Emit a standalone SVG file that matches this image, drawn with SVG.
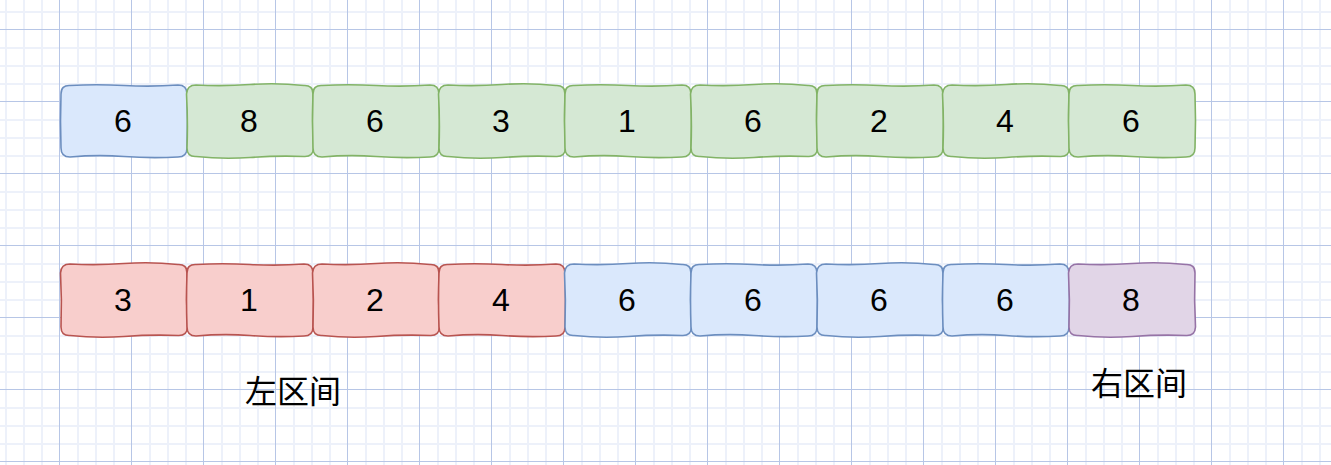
<svg xmlns="http://www.w3.org/2000/svg" width="1331" height="465" viewBox="0 0 1331 465">
<defs>
<pattern id="grid" patternUnits="userSpaceOnUse" x="59" y="29" width="72" height="72">
<rect width="72" height="72" fill="#ffffff"/>
<g fill="#edf1fa">
<rect x="18" y="0" width="2" height="72"/><rect x="36" y="0" width="2" height="72"/><rect x="54" y="0" width="2" height="72"/>
<rect x="0" y="18" width="72" height="2"/><rect x="0" y="36" width="72" height="2"/><rect x="0" y="54" width="72" height="2"/>
</g>
<g fill="#b7c6e6">
<rect x="0" y="0" width="1" height="72"/><rect x="0" y="0" width="72" height="1"/>
</g>
</pattern>
<path id="boxA" d="M9,0.5 Q35,-1 63,0.5 T117,0 Q126,0 126,9 Q127,36 126,63 Q126,72 117,72 Q90,73.5 63,71.5 T9,72 Q0,72 0,63 Q-1,36 0,9 Q0,0 9,0.5 Z"/>
<path id="boxB" d="M9,0 Q36,1.5 63,-0.5 T117,0.5 Q126,0 126,9 Q125,36 126.5,63 Q126,72 117,71.5 Q90,70.5 63,72.5 T9,71.5 Q0,72 0,63 Q1,36 -0.5,9 Q0,0 9,0 Z"/>
</defs>
<style>
.blue{fill:#dae8fc;stroke:#6c8ebf;stroke-width:1.6}
.green{fill:#d5e8d4;stroke:#82b366;stroke-width:1.6}
.red{fill:#f8cecc;stroke:#b85450;stroke-width:1.6}
.purple{fill:#e1d5e7;stroke:#9673a6;stroke-width:1.6}
.num{font-family:"Liberation Sans",Arial,sans-serif;font-size:32px;fill:#000;text-anchor:middle}
.lbl{font-family:"Liberation Sans","Noto Sans CJK SC",sans-serif;font-size:32px;fill:#000;text-anchor:middle}
</style>
<rect width="1331" height="465" fill="url(#grid)"/>
<g id="top-row">
<g id="t1"><use href="#boxA" class="blue" x="61" y="85"/><text class="num" x="123" y="132">6</text></g>
<g id="t2"><use href="#boxB" class="green" x="187" y="85"/><text class="num" x="249" y="132">8</text></g>
<g id="t3"><use href="#boxA" class="green" x="313" y="85"/><text class="num" x="375" y="132">6</text></g>
<g id="t4"><use href="#boxB" class="green" x="439" y="85"/><text class="num" x="501" y="132">3</text></g>
<g id="t5"><use href="#boxA" class="green" x="565" y="85"/><text class="num" x="627" y="132">1</text></g>
<g id="t6"><use href="#boxB" class="green" x="691" y="85"/><text class="num" x="753" y="132">6</text></g>
<g id="t7"><use href="#boxA" class="green" x="817" y="85"/><text class="num" x="879" y="132">2</text></g>
<g id="t8"><use href="#boxB" class="green" x="943" y="85"/><text class="num" x="1005" y="132">4</text></g>
<g id="t9"><use href="#boxA" class="green" x="1069" y="85"/><text class="num" x="1131" y="132">6</text></g>
</g>
<g id="bottom-row">
<g id="b1"><use href="#boxB" class="red" x="61" y="264"/><text class="num" x="123" y="311">3</text></g>
<g id="b2"><use href="#boxA" class="red" x="187" y="264"/><text class="num" x="249" y="311">1</text></g>
<g id="b3"><use href="#boxB" class="red" x="313" y="264"/><text class="num" x="375" y="311">2</text></g>
<g id="b4"><use href="#boxA" class="red" x="439" y="264"/><text class="num" x="501" y="311">4</text></g>
<g id="b5"><use href="#boxB" class="blue" x="565" y="264"/><text class="num" x="627" y="311">6</text></g>
<g id="b6"><use href="#boxA" class="blue" x="691" y="264"/><text class="num" x="753" y="311">6</text></g>
<g id="b7"><use href="#boxB" class="blue" x="817" y="264"/><text class="num" x="879" y="311">6</text></g>
<g id="b8"><use href="#boxA" class="blue" x="943" y="264"/><text class="num" x="1005" y="311">6</text></g>
<g id="b9"><use href="#boxB" class="purple" x="1069" y="264"/><text class="num" x="1131" y="311">8</text></g>
</g>
<g id="labels">
<text class="lbl" x="293" y="403">左区间</text>
<text class="lbl" x="1139" y="395">右区间</text>
</g>
<g id="connectors"/>
</svg>
